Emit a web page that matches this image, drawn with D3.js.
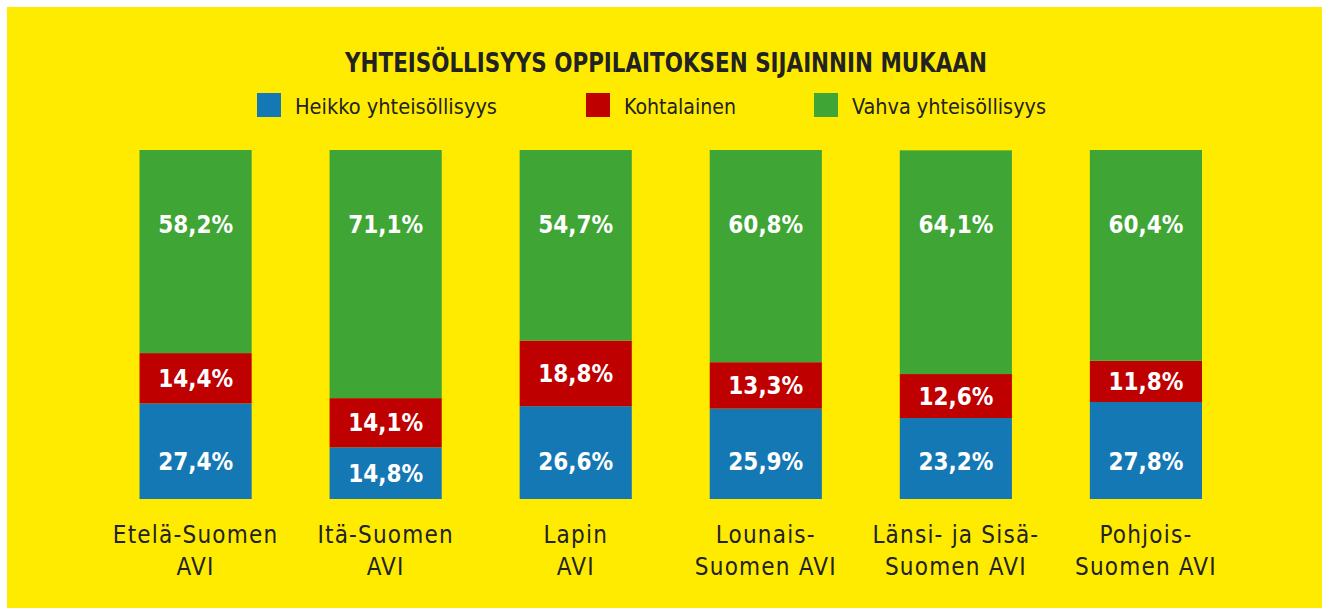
<!DOCTYPE html>
<html>
<head>
<meta charset="utf-8">
<script src="https://cdn.jsdelivr.net/npm/d3@7"></script>
<style>
  html, body { margin: 0; padding: 0; background: #ffffff; }
  svg { display: block; }
</style>
</head>
<body>
<svg id="chart" width="1322" height="608"></svg>
<script>
// ---- Data ----
const categories = [
  ["Etelä-Suomen", "AVI"],
  ["Itä-Suomen", "AVI"],
  ["Lapin", "AVI"],
  ["Lounais-", "Suomen AVI"],
  ["Länsi- ja Sisä-", "Suomen AVI"],
  ["Pohjois-", "Suomen AVI"]
];
const seriesNames = ["Heikko yhteisöllisyys", "Kohtalainen", "Vahva yhteisöllisyys"];
const heikko = [27.4, 14.8, 26.6, 25.9, 23.2, 27.8];
const kohtalainen = [14.4, 14.1, 18.8, 13.3, 12.6, 11.8];
const vahva = [58.2, 71.1, 54.7, 60.8, 64.1, 60.4];
const title = "YHTEISÖLLISYYS OPPILAITOKSEN SIJAINNIN MUKAAN";

// ---- Styles ----
const colors = ["#1478b4", "#be0000", "#3fa535"];
const FONT = "'Liberation Sans Narrow', 'DejaVu Sans Condensed', 'Arial Narrow', sans-serif";
const textColor = "#222222";

const svg = d3.select("#chart");
svg.append("rect").attr("x", 7).attr("y", 7).attr("width", 1315).attr("height", 601).attr("fill", "#ffeb00");

const keys = categories.map((c, i) => i);
const table = keys.map(i => ({ i: i, h: heikko[i], k: kohtalainen[i], v: vahva[i] }));
const stack = d3.stack().keys(["h", "k", "v"]);
const layers = stack(table);

const x = d3.scaleBand().domain(keys).range([101.5, 1240]).paddingInner(0.41).paddingOuter(0.2);
const y = d3.scaleLinear().domain([0, 100]).range([499, 150]);

// label placement per layer: blue kept low, red centred, green fixed near top
function labelY(li, d) {
  const top = y(Math.min(d[1], 100)), bot = y(d[0]);
  const c = (top + bot) / 2;
  if (li === 0) return Math.max(c, y(10.9));
  if (li === 2) return y(78.8);
  return c;
}

// bars
const g = svg.append("g");
layers.forEach((layer, li) => {
  g.selectAll(null).data(layer).enter().append("rect")
    .attr("x", d => x(d.data.i))
    .attr("width", x.bandwidth())
    .attr("y", d => y(Math.min(d[1], 100)))
    .attr("height", d => y(d[0]) - y(Math.min(d[1], 100)))
    .attr("fill", colors[li]);
  g.selectAll(null).data(layer).enter().append("text")
    .attr("x", d => x(d.data.i) + x.bandwidth() / 2)
    .attr("y", d => labelY(li, d))
    .attr("dy", "0.36em")
    .attr("text-anchor", "middle")
    .attr("fill", "#ffffff")
    .attr("font-family", FONT)
    .attr("font-weight", "bold")
    .attr("font-size", 24)
    .text(d => (d[1] - d[0]).toFixed(1).replace(".", ",") + "%");
});

// category labels (axis without lines)
const axis = d3.axisBottom(x).tickSize(0).tickFormat(() => "");
const ax = svg.append("g").attr("transform", "translate(0,499)").call(axis);
ax.select(".domain").remove();
ax.selectAll(".tick").each(function(d) {
  const t = d3.select(this).append("text")
    .attr("text-anchor", "middle")
    .attr("fill", textColor)
    .attr("font-family", FONT)
    .attr("font-size", 24)
    .style("letter-spacing", "1.2px");
  categories[d].forEach((line, li) => {
    t.append("tspan").attr("x", 0).attr("y", 44 + li * 32).text(line);
  });
});

// title
svg.append("text")
  .attr("x", 345).attr("y", 72)
  .attr("fill", textColor)
  .attr("font-family", FONT)
  .attr("font-weight", "bold")
  .attr("font-size", 26)
  .attr("textLength", 642)
  .attr("lengthAdjust", "spacingAndGlyphs")
  .text(title);

// legend
const legendX = [257, 586, 814];
const legendW = [202, 112, 194];
seriesNames.forEach((name, i) => {
  const lg = svg.append("g").attr("transform", `translate(${legendX[i]},93)`);
  lg.append("rect").attr("width", 24).attr("height", 24).attr("fill", colors[i]);
  lg.append("text")
    .attr("x", 38).attr("y", 20.5)
    .attr("fill", textColor)
    .attr("font-family", FONT)
    .attr("font-size", 21)
    .attr("textLength", legendW[i])
    .attr("lengthAdjust", "spacingAndGlyphs")
    .text(name);
});
</script>
</body>
</html>
